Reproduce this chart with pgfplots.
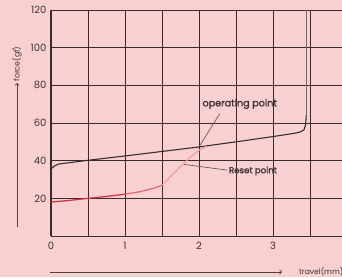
\documentclass[border=0pt]{standalone}
\usepackage{fontspec}
\setmainfont{Poppins}
\newfontfamily\medfont[FakeBold=1.6]{Poppins}
\usepackage{pgfplots}
\pgfplotsset{compat=1.18}
\definecolor{bg}{RGB}{248,208,207}
\definecolor{gridc}{RGB}{58,42,42}
\definecolor{opc}{RGB}{52,48,48}
\definecolor{opv}{RGB}{110,104,104}
\definecolor{redd}{RGB}{205,55,75}
\definecolor{redm}{RGB}{225,105,118}
\definecolor{redl}{RGB}{242,155,162}
\definecolor{txt}{RGB}{62,50,50}
\begin{document}
\begin{tikzpicture}
\fill[bg] (-51pt,-41pt) rectangle (291pt,236pt);
\begin{axis}[
  at={(0,0)}, anchor=south west, scale only axis,
  width=292.3pt, height=226pt,
  xmin=0, xmax=3.95, ymin=0, ymax=120,
  axis x line=bottom, axis y line=left,
  axis line style={-},
  x axis line style={line width=1pt, draw=gridc},
  y axis line style={line width=1.6pt, draw=gridc},
  xtick={0,1,2,3}, minor xtick={0.5,1.5,2.5,3.5},
  ytick={20,40,60,80,100,120},
  grid=both,
  major grid style={draw=gridc, line width=0.9pt},
  minor grid style={draw=gridc, line width=0.9pt},
  major tick length=0pt, minor tick length=0pt,
  tick style={draw=none},
  ticklabel style={font=\fontsize{10}{11}\selectfont, text=txt},
  xticklabel style={yshift=-3pt},
  yticklabel style={xshift=-1pt},
  /pgf/number format/assume math mode=true,
  clip=false,
]
% operating curve
\addplot[opc, line width=1.1pt] coordinates {
 (0,35.5) (0.04,37) (0.1,38.2) (0.3,39.2) (0.5,40.2) (1,42.5) (1.5,44.9)
 (2,47.3) (2.5,50) (3,52.8) (3.3,54.6) (3.38,55.4) (3.42,56.5) (3.44,59) (3.45,64)
};
\addplot[opv, line width=1.1pt] coordinates {
 (3.45,64) (3.45,120)
};
% reset curve
\addplot[redd, line width=1.3pt] coordinates {
 (0,18) (0.25,18.9) (0.5,20) (0.75,21) (1,22.2)
};
\addplot[redm, line width=1.2pt] coordinates {
 (1,22.2) (1.2,23.5) (1.4,25.5) (1.5,27)
};
\addplot[redl, line width=1.1pt] coordinates {
 (1.5,27) (1.65,33) (1.82,39.5) (1.9,42.5) (2.0,45.5) (2.1,47.6)
};
% annotations
\draw[opc!85, line width=0.6pt] (axis cs:2.0,47.3) -- (axis cs:2.28,65);
\draw[opc!85, line width=0.6pt] (axis cs:1.8,38) -- (axis cs:2.38,35);
\node[font=\medfont\fontsize{9.6}{10}\selectfont, text=txt] at (axis cs:2.55,70.1) {operating point};
\node[font=\medfont\fontsize{8.6}{9}\selectfont, text=txt, anchor=west, inner sep=1pt] at (axis cs:2.39,34.5) {Reset point};
\end{axis}
% axis arrows and labels
\draw[gridc!90, line width=0.8pt, ->] (-34pt,9pt) -- (-34pt,153pt);
\node[rotate=90, font=\fontsize{7.8}{8}\selectfont, text=txt] at (-34pt,172pt) {force(gf)};
\draw[gridc!90, line width=0.8pt, ->] (-1pt,-36pt) -- (231pt,-36pt);
\node[anchor=west, font=\fontsize{7.6}{8}\selectfont, text=txt, inner sep=1pt] at (247pt,-36pt) {travel(mm)};
\pgfresetboundingbox
\path (-51pt,-41pt) rectangle (291pt,236pt);
\end{tikzpicture}
\end{document}
